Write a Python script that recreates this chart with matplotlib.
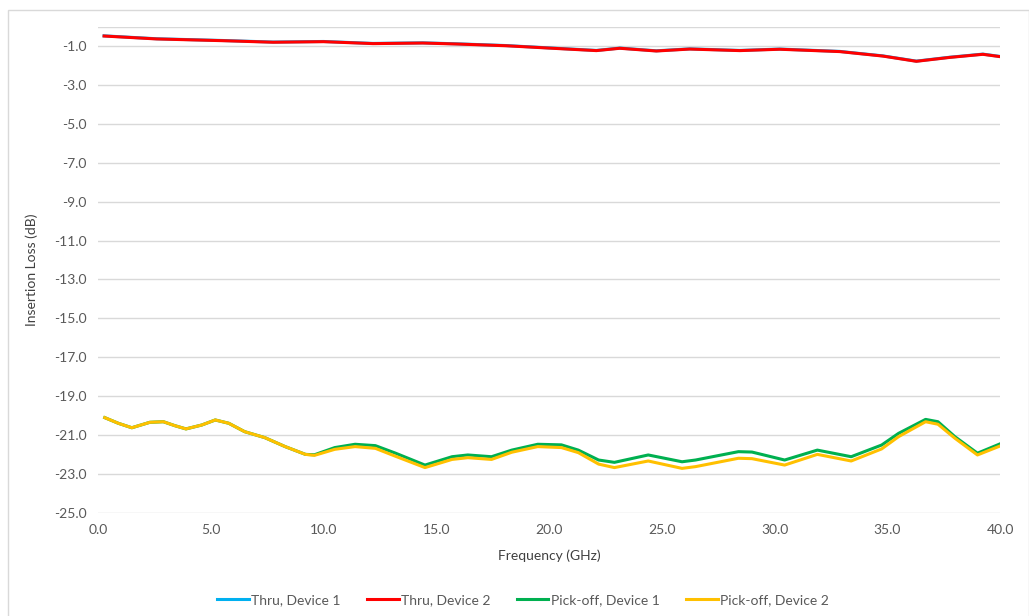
import matplotlib
matplotlib.use("Agg")
import matplotlib.pyplot as plt
from matplotlib.patches import Rectangle

# Frequency points (GHz) and insertion loss (dB)
freq_thru = [0.27, 2.6, 5.55, 7.77, 10.0, 12.2, 14.4, 15.9, 18.1, 20.0, 22.1, 23.14,
             24.76, 26.24, 28.46, 30.23, 32.89, 34.8, 36.29, 37.77, 39.24, 40.0]
thru_dev2 = [-0.48, -0.63, -0.72, -0.80, -0.77, -0.87, -0.84, -0.89, -0.98, -1.10, -1.23, -1.11,
             -1.25, -1.15, -1.23, -1.16, -1.28, -1.51, -1.78, -1.58, -1.42, -1.54]
thru_dev1 = [-0.47, -0.62, -0.71, -0.79, -0.76, -0.86, -0.83, -0.88, -0.97, -1.09, -1.22, -1.10,
             -1.24, -1.14, -1.22, -1.15, -1.27, -1.50, -1.77, -1.57, -1.41, -1.53]

freq_pick = [0.3, 0.9, 1.5, 2.3, 2.9, 3.4, 3.9, 4.6, 5.2, 5.8, 6.5, 7.4, 8.3, 9.2, 9.6,
             10.5, 11.4, 12.3, 13.2, 14.5, 15.7, 16.4, 17.45, 18.35, 19.5, 20.55, 21.3,
             22.2, 22.9, 24.4, 25.9, 26.5, 28.4, 29.0, 30.45, 31.9, 33.4, 34.75, 35.5,
             36.7, 37.25, 38.0, 39.0, 40.0]
pick_dev1 = [-20.11, -20.40, -20.63, -20.35, -20.32, -20.52, -20.69, -20.49, -20.23, -20.40,
             -20.83, -21.14, -21.60, -22.00, -22.02, -21.65, -21.48, -21.55, -21.94, -22.55,
             -22.12, -22.03, -22.12, -21.78, -21.48, -21.51, -21.78, -22.29, -22.41, -22.03,
             -22.38, -22.29, -21.86, -21.88, -22.29, -21.78, -22.12, -21.52, -20.92, -20.20,
             -20.32, -21.09, -21.94, -21.46]
pick_dev2 = [-20.11, -20.40, -20.63, -20.35, -20.32, -20.52, -20.69, -20.49, -20.23, -20.40,
             -20.83, -21.14, -21.60, -22.00, -22.05, -21.74, -21.60, -21.69, -22.10, -22.68,
             -22.26, -22.17, -22.26, -21.89, -21.60, -21.65, -21.91, -22.50, -22.68, -22.34,
             -22.72, -22.63, -22.20, -22.22, -22.55, -22.00, -22.34, -21.72, -21.09, -20.32,
             -20.45, -21.17, -22.03, -21.57]

series_labels = ["Thru, Device 1", "Thru, Device 2", "Pick-off, Device 1", "Pick-off, Device 2"]
xticks = [0, 5, 10, 15, 20, 25, 30, 35, 40]
yticks = [-25, -23, -21, -19, -17, -15, -13, -11, -9, -7, -5, -3, -1]

plt.rcParams['font.family'] = ['Lato', 'DejaVu Sans']

W, H = 1029, 616
fig = plt.figure(figsize=(W / 100, H / 100), dpi=100)
ax = fig.add_axes([98 / W, 1 - 512.7 / H, (1000 - 98) / W, (512.7 - 26.7) / H])

# chart border
fig.patches.append(Rectangle((8 / W, -0.05), (W - 8.5) / W, 1.05 - 9.5 / H,
                             transform=fig.transFigure, fill=False,
                             edgecolor='#D9D9D9', linewidth=1.0))

for y in yticks + [0]:
    ax.axhline(y, color='#D9D9D9', linewidth=1.0, zorder=0)

lw = 2.2
ax.plot(freq_thru, thru_dev1, color='#00B0F0', lw=lw, label=series_labels[0], solid_joinstyle='round')
ax.plot(freq_thru, thru_dev2, color='#FF0000', lw=lw, label=series_labels[1], solid_joinstyle='round')
ax.plot(freq_pick, pick_dev1, color='#00B050', lw=lw, label=series_labels[2], solid_joinstyle='round')
ax.plot(freq_pick, pick_dev2, color='#FFC000', lw=lw, label=series_labels[3], solid_joinstyle='round')

ax.set_xlim(0, 40)
ax.set_ylim(-25, 0)
ax.set_xticks(xticks)
ax.set_xticklabels([f"{v:.1f}" for v in xticks])
ax.set_yticks(yticks)
ax.set_yticklabels([f"{v:.1f}" for v in yticks])
ax.tick_params(length=0, labelsize=10, colors='#595959', pad=8)
for s in ax.spines.values():
    s.set_visible(False)

ax.set_xlabel("Frequency (GHz)", fontsize=10, color='#404040', labelpad=10)
ax.set_ylabel("Insertion Loss (dB)", fontsize=10, color='#404040', labelpad=12)

fig.legend(loc='center', bbox_to_anchor=(0.508, 1 - 600 / H), ncol=4, frameon=False,
           fontsize=10, handlelength=2.3, columnspacing=1.9, handletextpad=0.15,
           labelcolor='#595959')

fig.savefig("out.png", dpi=100)
